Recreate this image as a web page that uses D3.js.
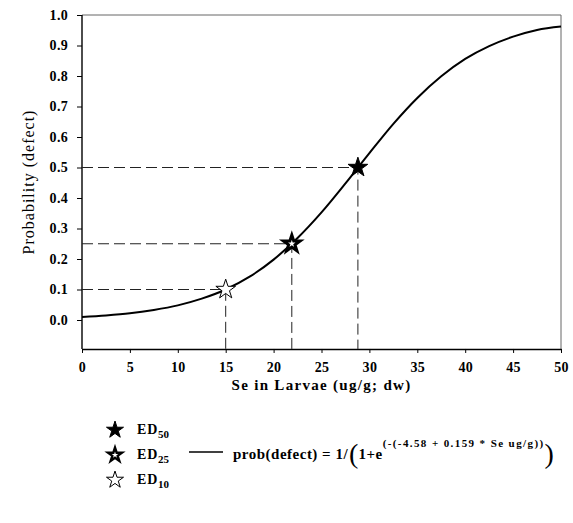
<!DOCTYPE html>
<html>
<head>
<meta charset="utf-8">
<script src="https://cdn.jsdelivr.net/npm/d3@7"></script>
<style>
  body { margin: 0; background: #fff; }
  svg { display: block; }
  text { font-family: "Liberation Serif", "Times New Roman", serif; font-weight: bold; fill: #000; }
</style>
</head>
<body>
<svg id="chart" width="573" height="523"></svg>
<script>
// ---- data ----
const xTickValues = [0, 5, 10, 15, 20, 25, 30, 35, 40, 45, 50];
const yTickValues = [0.0, 0.1, 0.2, 0.3, 0.4, 0.5, 0.6, 0.7, 0.8, 0.9, 1.0];
const yTickLabels = ["0.0","0.1","0.2","0.3","0.4","0.5","0.6","0.7","0.8","0.9","1.0"];
// fitted curve
const curveSe   = [0, 2.5, 5, 7.5, 10, 12.5, 15, 17.5, 20, 22.5, 25, 27.5, 30, 32.5, 35, 37.5, 40, 42.5, 45, 47.5, 50];
const curveProb = [0.010, 0.015, 0.022, 0.033, 0.048, 0.070, 0.100, 0.142, 0.198, 0.269, 0.353, 0.448, 0.547, 0.643, 0.728, 0.799, 0.856, 0.898, 0.929, 0.951, 0.962];
// effective doses
const edNames = ["50", "25", "10"];
const edSe    = [28.8, 21.9, 15.0];
const edProb  = [0.50, 0.25, 0.10];
const xTitle = "Se in Larvae (ug/g; dw)";
const yTitle = "Probability (defect)";
const formulaMain = "prob(defect) = 1/";
const formulaExp = "(-(-4.58 + 0.159 * Se ug/g))";

// ---- layout ----
const svg = d3.select("#chart");
const pL = 82, pR = 561, pT = 15;
const x = d3.scaleLinear().domain([0, 50]).range([pL, pR]);
const y = d3.scaleLinear().domain([0, 1]).range([320, pT]);
const pB = y(-0.095);

// frame (top/right)
svg.append("path")
  .attr("d", `M${pL},${pT}H${pR}V${pB}`)
  .attr("fill", "none").attr("stroke", "#666").attr("stroke-width", 1);

// y axis
const yAxis = svg.append("g").attr("transform", `translate(${pL},0)`)
  .call(d3.axisLeft(y).tickValues(yTickValues).tickFormat((d, i) => yTickLabels[i]).tickSize(5).tickSizeOuter(0).tickPadding(9));
yAxis.select(".domain").attr("d", `M0,${pT}V${pB}`).attr("stroke", "#000").attr("stroke-width", 1.4);
yAxis.selectAll("text").style("font-size", "14px").style("letter-spacing", "0.3px")
  .style("font-family", "Liberation Serif").style("font-weight", "bold");

// x axis
const xAxis = svg.append("g").attr("transform", `translate(0,${pB})`)
  .call(d3.axisBottom(x).tickValues(xTickValues).tickSize(4).tickSizeOuter(0).tickPadding(9));
xAxis.select(".domain").attr("stroke", "#000").attr("stroke-width", 1.4);
xAxis.selectAll("text").style("font-size", "14px").style("letter-spacing", "0.3px")
  .style("font-family", "Liberation Serif").style("font-weight", "bold");

// axis titles
svg.append("text").attr("x", (pL + pR) / 2).attr("y", 390)
  .attr("text-anchor", "middle").style("font-size", "15px").style("letter-spacing", "1.3px").text(xTitle);
svg.append("text").attr("transform", `translate(34,${(pT + pB) / 2}) rotate(-90)`)
  .attr("text-anchor", "middle").style("font-size", "16px").style("letter-spacing", "1px")
  .style("font-weight", "normal").text(yTitle);

// dashed guide lines
edSe.forEach((v, i) => {
  svg.append("path")
    .attr("d", `M${pL},${y(edProb[i])}H${x(v)}V${pB}`)
    .attr("fill", "none").attr("stroke", "#222").attr("stroke-width", 1)
    .attr("stroke-dasharray", "11,5");
});

// curve
const line = d3.line().x((d, i) => x(curveSe[i])).y(d => y(d)).curve(d3.curveMonotoneX);
svg.append("path").datum(curveProb).attr("d", line)
  .attr("fill", "none").attr("stroke", "#000").attr("stroke-width", 2);

// stars
const starStyle = [
  { fill: "#000", stroke: "#000", sw: 1, size: 120 },
  { fill: "#fff", stroke: "#000", sw: 3, size: 85 },
  { fill: "#fff", stroke: "#000", sw: 1, size: 120 }
];
edSe.forEach((v, i) => {
  svg.append("path").attr("d", d3.symbol().type(d3.symbolStar).size(starStyle[i].size)())
    .attr("transform", `translate(${x(v)},${y(edProb[i])})`)
    .attr("fill", starStyle[i].fill).attr("stroke", starStyle[i].stroke)
    .attr("stroke-width", starStyle[i].sw).attr("stroke-linejoin", "miter");
});

// legend
const legY = [430, 455, 480];
edNames.forEach((n, i) => {
  svg.append("path").attr("d", d3.symbol().type(d3.symbolStar).size(i === 1 ? 60 : 90)())
    .attr("transform", `translate(115,${legY[i]})`)
    .attr("fill", starStyle[i].fill).attr("stroke", starStyle[i].stroke)
    .attr("stroke-width", i === 1 ? 2.4 : 1);
  const t = svg.append("text").attr("x", 137).attr("y", legY[i] + 4).style("font-size", "14px").style("letter-spacing", "0.8px");
  t.append("tspan").text("ED");
  t.append("tspan").attr("dy", 4).style("font-size", "11px").style("letter-spacing", "0px").text(n);
});

// curve legend
svg.append("line").attr("x1", 189).attr("x2", 223).attr("y1", 452).attr("y2", 452)
  .attr("stroke", "#000").attr("stroke-width", 1.5);
let fx = 233;
const fy = 459;
const t1 = svg.append("text").attr("x", fx).attr("y", fy).style("font-size", "15px").style("letter-spacing", "0.5px").text(formulaMain);
fx += t1.node().getComputedTextLength() + 1;
const p1 = svg.append("text").attr("x", fx).attr("y", fy + 4).style("font-size", "28px").style("font-weight", "normal").text("(");
fx += p1.node().getComputedTextLength();
const t2 = svg.append("text").attr("x", fx).attr("y", fy).style("font-size", "15px").style("letter-spacing", "0.5px").text("1+e");
fx += t2.node().getComputedTextLength();
const t3 = svg.append("text").attr("x", fx).attr("y", fy - 12).style("font-size", "11px").style("letter-spacing", "1.4px").text(formulaExp);
fx += t3.node().getComputedTextLength();
svg.append("text").attr("x", fx).attr("y", fy + 4).style("font-size", "28px").style("font-weight", "normal").text(")");
</script>
</body>
</html>
